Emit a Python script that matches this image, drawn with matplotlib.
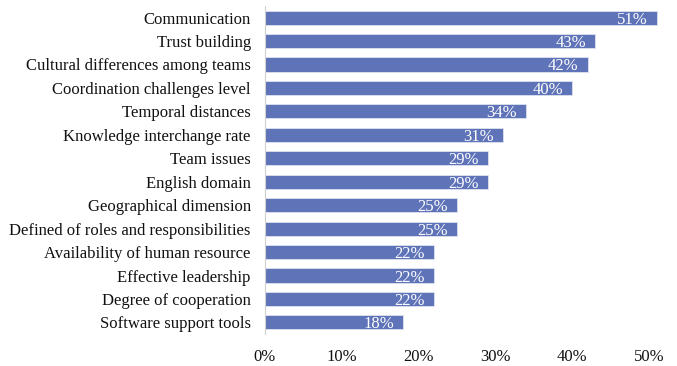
import matplotlib
matplotlib.use("Agg")
import matplotlib.pyplot as plt
from matplotlib.ticker import PercentFormatter

plt.rcParams['font.family'] = ['Liberation Serif', 'DejaVu Serif']

categories = [
    "Communication",
    "Trust building",
    "Cultural differences among teams",
    "Coordination challenges level",
    "Temporal distances",
    "Knowledge interchange rate",
    "Team issues",
    "English domain",
    "Geographical dimension",
    "Defined of roles and responsibilities",
    "Availability of human resource",
    "Effective leadership",
    "Degree of cooperation",
    "Software support tools",
]
shares = [51, 43, 42, 40, 34, 31, 29, 29, 25, 25, 22, 22, 22, 18]
x_ticks = [0, 10, 20, 30, 40, 50]

bar_color = "#5f73b8"

fig = plt.figure(figsize=(6.77, 3.66), dpi=100)
ax = fig.add_axes([0.391, 0.087, 0.586, 0.897])

ypos = list(range(len(categories)))
bars = ax.barh(ypos, shares, height=0.6, color=bar_color,
               edgecolor="#dfe3f0", linewidth=0.6)

# value labels sit just inside the end of each bar
for b, v in zip(bars, shares):
    ax.text(b.get_width() - 1.2, b.get_y() + b.get_height() / 2, f"{v}%",
            ha="right", va="center_baseline", color="white", fontsize=12)

ax.set_yticks(ypos)
ax.set_yticklabels(categories, fontsize=12)
ax.set_ylim(13.5, -0.5)
ax.set_xlim(0, 51.6)
ax.set_xticks(x_ticks)
ax.xaxis.set_major_formatter(PercentFormatter(decimals=0))
ax.tick_params(axis="both", length=0, labelsize=12, colors="#111111")
ax.tick_params(axis="x", pad=11)
ax.tick_params(axis="y", pad=10)

for side in ("top", "right", "bottom"):
    ax.spines[side].set_visible(False)
ax.spines["left"].set_color("#d0d0d0")
ax.spines["left"].set_linewidth(0.8)

fig.savefig("out.png", dpi=100)
